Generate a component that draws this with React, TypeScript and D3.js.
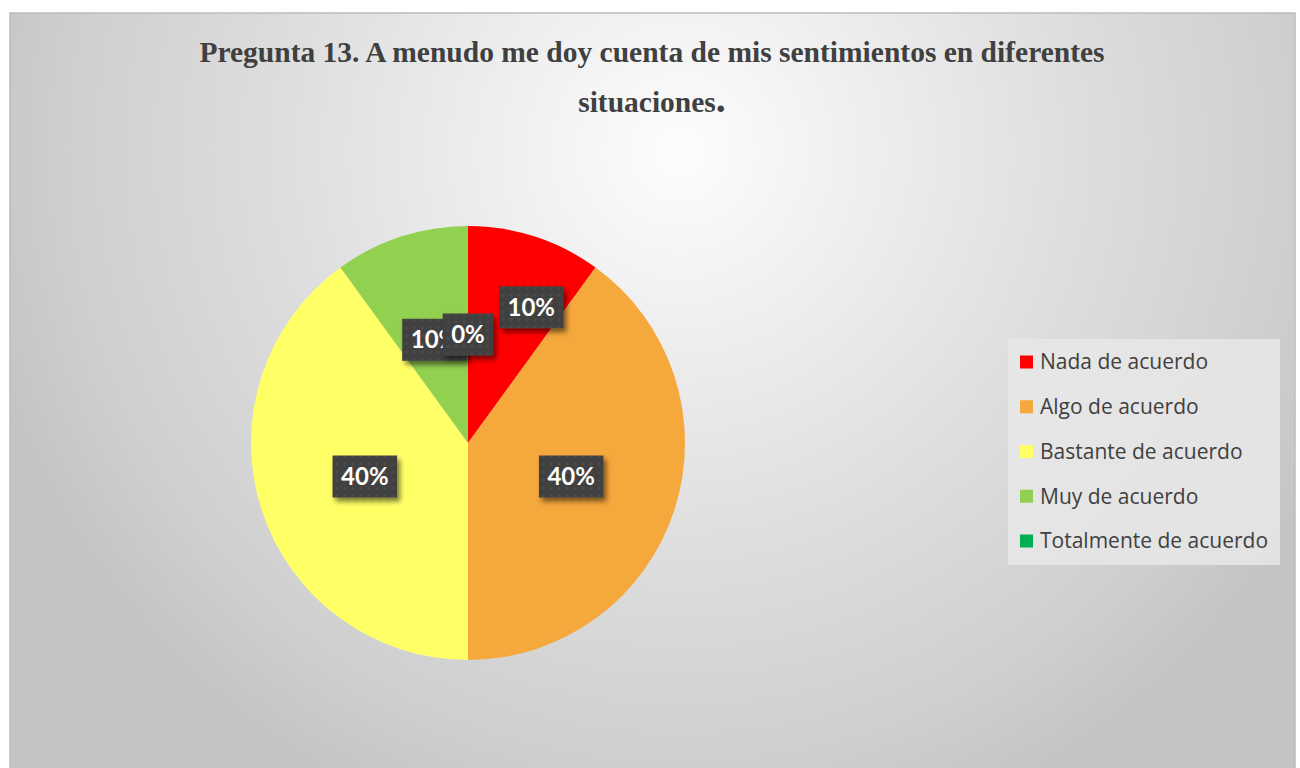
import React, { useEffect, useRef } from "react";
import * as d3 from "d3";

const categories = ["Nada de acuerdo", "Algo de acuerdo", "Bastante de acuerdo", "Muy de acuerdo", "Totalmente de acuerdo"];
const values = [10, 40, 40, 10, 0];
const colors = ["#FF0000", "#F5A83C", "#FFFF66", "#92D050", "#00B050"];
const labelRadius = [0.69, 0.5, 0.5, 0.5, 0.5];
const labelAngleNudgeDeg = [7, 0, 0, 0, 0];
const titleLine1 = "Pregunta 13. A menudo me doy cuenta de mis sentimientos en diferentes";
const titleLine2 = "situaciones";

const W = 1300;
const H = 768;

export default function App() {
  const ref = useRef<SVGSVGElement>(null);

  useEffect(() => {
    const svg = d3.select(ref.current);
    svg.selectAll("*").remove();

    const defs = svg.append("defs");
    const grad = defs.append("radialGradient").attr("id", "bg").attr("gradientUnits", "userSpaceOnUse")
      .attr("cx", 680).attr("cy", 150).attr("r", 720);
    grad.append("stop").attr("offset", "0%").attr("stop-color", "#fdfdfd");
    grad.append("stop").attr("offset", "55%").attr("stop-color", "#dedede");
    grad.append("stop").attr("offset", "85%").attr("stop-color", "#cfcfcf");
    grad.append("stop").attr("offset", "100%").attr("stop-color", "#c4c4c4");

    const pat = defs.append("pattern").attr("id", "dots").attr("width", 8).attr("height", 8).attr("patternUnits", "userSpaceOnUse");
    pat.append("rect").attr("width", 8).attr("height", 8).attr("fill", "#404040");
    pat.append("circle").attr("cx", 4).attr("cy", 4).attr("r", 1.6).attr("fill", "#4b4b4b");

    const filt = defs.append("filter").attr("id", "shadow").attr("x", "-30%").attr("y", "-30%").attr("width", "170%").attr("height", "170%");
    filt.append("feDropShadow").attr("dx", 3).attr("dy", 4).attr("stdDeviation", 2.5).attr("flood-color", "#000").attr("flood-opacity", 0.5);

    svg.append("rect").attr("x", 10).attr("y", 13).attr("width", 1285).attr("height", 770)
      .attr("fill", "url(#bg)").attr("stroke", "#bcbcbc").attr("stroke-width", 1.5);

    // Title
    const title = svg.append("text").attr("text-anchor", "middle")
      .attr("font-family", "'Liberation Serif', 'Times New Roman', serif").attr("font-weight", "bold")
      .attr("font-size", 29.5).attr("fill", "#404040");
    title.append("tspan").attr("x", 652).attr("y", 62).text(titleLine1);
    const t2 = title.append("tspan").attr("x", 652).attr("y", 112);
    t2.text(titleLine2);
    title.append("tspan").attr("font-size", 40).text(".");

    // Pie
    const cx = 468, cy = 443, r = 217;
    const pie = d3.pie<number>().sort(null).value((d) => d);
    const arcs = pie(values);
    const arc = d3.arc<d3.PieArcDatum<number>>().innerRadius(0).outerRadius(r);
    const g = svg.append("g").attr("transform", `translate(${cx},${cy})`);
    g.selectAll("path.slice").data(arcs).enter().append("path").attr("class", "slice")
      .attr("d", (d) => arc(d) as string).attr("fill", (d, i) => colors[i]);

    const total = d3.sum(values);
    arcs.forEach((d, i) => {
      const nudge = (labelAngleNudgeDeg[i] * Math.PI) / 180;
      const la = d3.arc<any>().innerRadius(r * labelRadius[i]).outerRadius(r * labelRadius[i]);
      const [lx, ly] = la.centroid({ startAngle: d.startAngle + nudge, endAngle: d.endAngle + nudge });
      const lg = g.append("g").attr("transform", `translate(${lx},${ly})`);
      const txt = `${Math.round((values[i] / total) * 100)}%`;
      const box = lg.append("rect").attr("fill", "url(#dots)").attr("filter", "url(#shadow)");
      const t = lg.append("text").attr("text-anchor", "middle").attr("dy", "0.36em")
        .attr("font-family", "Lato, 'Open Sans', sans-serif").attr("font-weight", "bold")
        .attr("font-size", 24).attr("fill", "#ffffff").text(txt);
      const bb = (t.node() as SVGTextElement).getBBox();
      const bw = bb.width + 17, bh = 42;
      box.attr("x", -bw / 2).attr("y", -bh / 2).attr("width", bw).attr("height", bh);
    });

    // Legend
    const lx0 = 1008, ly0 = 339;
    svg.append("rect").attr("x", lx0).attr("y", ly0).attr("width", 272).attr("height", 226)
      .attr("fill", "#e8e8e8").attr("opacity", 0.85);
    const y = d3.scalePoint<string>().domain(categories).range([362, 541]);
    const lg = svg.append("g");
    categories.forEach((c, i) => {
      const yy = y(c)!;
      lg.append("rect").attr("x", 1020).attr("y", yy - 6.5).attr("width", 13).attr("height", 13).attr("fill", colors[i]);
      lg.append("text").attr("x", 1040).attr("y", yy).attr("dy", "0.35em")
        .attr("font-family", "'Open Sans', sans-serif").attr("font-size", 21).attr("fill", "#404040").text(c);
    });
  }, []);

  return (
    <svg ref={ref} width={W} height={H} style={{ position: "absolute", left: 0, top: 0, background: "#ffffff" }} />
  );
}
